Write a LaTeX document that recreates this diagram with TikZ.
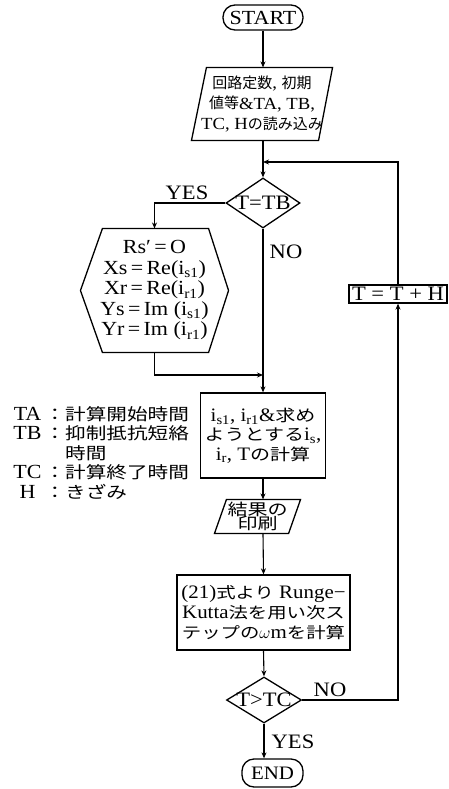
\documentclass[tikz,border=0pt]{standalone}
\usepackage{fontspec}
\setmainfont{Liberation Serif}[FakeStretch=1.1]
\newfontfamily\jp{Noto Sans CJK JP}[FakeStretch=1.25]
\newfontfamily\jpn{Noto Sans CJK JP}
\usetikzlibrary{shapes.geometric,calc,arrows.meta}
\newcommand{\fs}[2]{\fontsize{#1}{#2}\selectfont\lineskiplimit=-50pt\relax}
\newcommand{\cj}[2]{{\fontsize{#1}{#1}\selectfont\jp #2}}
\newcommand{\cn}[2]{{\fontsize{#1}{#1}\selectfont\jpn #2}}
\newcommand{\lk}[1]{\makebox[34pt][c]{#1}}
\begin{document}
\begin{tikzpicture}[x=1pt,y=-1pt,line width=1.1pt,
  >={Stealth[length=6pt,width=5pt]},
  box/.style={draw,rectangle,inner sep=0pt,align=center,line width=1.3pt},
  txt/.style={inner sep=0pt,align=center},
  term/.style={draw,rounded corners=12pt,inner sep=0pt,line width=1.3pt},
  dec/.style={draw,diamond,inner sep=0pt,line width=1.3pt,font=\fs{20.5}{21}},
  lab/.style={inner sep=0pt,font=\fs{20.5}{21}}]
\useasboundingbox (0,0) rectangle (448,789);

% start
\node[term,minimum width=80pt,minimum height=25pt,font=\fs{20}{21}] (start) at (263,17.5) {START};

% input
\node[txt,minimum width=140pt,minimum height=72pt,font=\fs{17}{20}] (inp) at (262,104)
  {\cn{15}{回路定数}, \cn{15}{初期}\\\cn{15}{値等}\&TA, TB,\\TC, H\cn{15}{の読み込み}};
\draw[line width=1.3pt] ($(inp.north west)+(15,0)$) -- (inp.north east) -- ($(inp.south east)+(-14,0)$) -- (inp.south west) -- cycle;

% decision T=TB
\node[dec,minimum width=74pt,minimum height=50pt] (d1) at (263,203) {\makebox[0pt]{T=TB}};

% hexagon
\node[txt,minimum width=147pt,minimum height=123pt,font=\fs{20}{20.5}] (hex) at (154.5,290.5)
  {Rs′\,=\,O\\Xs\,=\,Re(i\textsubscript{s1})\\Xr\,=\,Re(i\textsubscript{r1})\\Ys\,=\,Im (i\textsubscript{s1})\\Yr\,=\,Im (i\textsubscript{r1})};
\draw[line width=1.3pt] ($(hex.north west)+(22,0)$) -- ($(hex.north east)+(-20,0)$) -- (hex.east) -- ($(hex.south east)+(-20,0)$) -- ($(hex.south west)+(22,0)$) -- (hex.west) -- cycle;

% compute
\node[box,minimum width=125pt,minimum height=85pt,font=\fs{19}{19.5}] (comp) at (263,435.5)
  {i\textsubscript{s1}, i\textsubscript{r1}\&\cj{16}{求め}\\\cj{16}{ようとする}i\textsubscript{s},\\i\textsubscript{r}, T\cj{16}{の計算}};

% output
\node[txt,minimum width=85pt,minimum height=33pt,font=\fs{16}{14.5}] (out) at (257.5,516.5)
  {\cj{16}{結果の}\\\cj{16}{印刷}};
\draw[line width=1.3pt] ($(out.north west)+(12,0)$) -- (out.north east) -- ($(out.south east)+(-12,0)$) -- (out.south west) -- cycle;

% Runge-Kutta
\node[box,minimum width=173pt,minimum height=75pt,font=\fs{19}{20}] (rk) at (263.5,612.5)
  {(21)\cj{15.5}{式より} Runge−\\Kutta\cj{15.5}{法を用い次ス}\\\cj{15.5}{テップの}$\omega$m\cj{15.5}{を計算}};

% decision T>TC
\node[dec,minimum width=75pt,minimum height=46pt] (d2) at (264,700) {\makebox[0pt]{T>TC}};

% T=T+H
\node[box,minimum width=98pt,minimum height=18pt,font=\fs{20.5}{21}] (tth) at (398,294) {T = T + H};

% end
\node[term,minimum width=61pt,minimum height=28pt,font=\fs{19}{20}] (stop) at (272.5,773) {END};

% legend
\node[anchor=north west,inner sep=0pt,align=left,font=\fs{20}{19.5}] (leg) at (10,406)
  {\lk{TA}\cj{16.5}{：計算開始時間}\\\lk{TB}\cj{16.5}{：抑制抵抗短絡}\\\lk{}\cj{16.5}{\phantom{：}時間}\\\lk{TC}\cj{16.5}{：計算終了時間}\\\lk{H}\cj{16.5}{：きざみ}};

% labels
\node[lab] (yes1) at (187,193) {YES};
\node[lab] (no1) at (286,252) {NO};
\node[lab] (no2) at (330,690) {NO};
\node[lab] (yes2) at (293,742) {YES};

% connectors
\coordinate (j1) at (263,162);
\coordinate (j2) at (263,375);
\draw[->] (start.south) -- (start.south |- inp.north);
\draw[->] (d1.north |- inp.south) -- (d1.north);
\draw[->] (tth.north) |- (j1);
\draw[->] (d1.west) -| (hex.north);
\draw[->] (d1.south) -- (comp.north);
\draw[->] (hex.south) |- (j2);
\draw[->] (comp.south) -- (comp.south |- out.north);
\draw[->] (comp.south |- out.south) -- (rk.north);
\draw[->] (rk.south) -- (d2.north);
\draw[->] (d2.east) -| (tth.south);
\draw[->] (d2.south) -- (d2.south |- stop.north);
\end{tikzpicture}
\end{document}
